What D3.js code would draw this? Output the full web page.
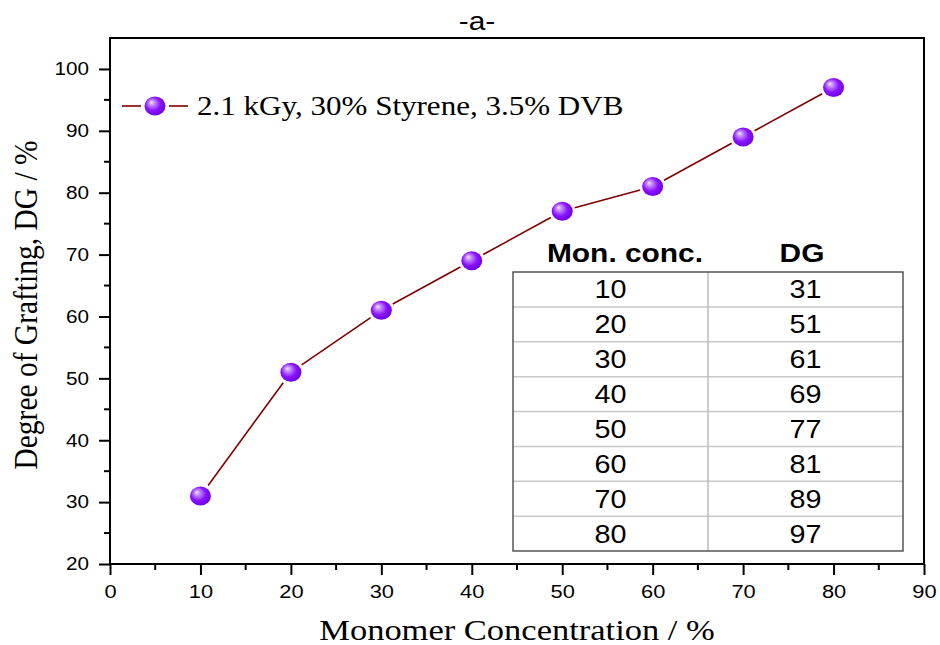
<!DOCTYPE html>
<html>
<head>
<meta charset="utf-8">
<script src="https://cdn.jsdelivr.net/npm/d3@7"></script>
<style>
  html, body { margin: 0; padding: 0; background: #fff; }
  svg { display: block; }
</style>
</head>
<body>
<svg id="chart" width="940" height="645"></svg>
<script>
// Degree of grafting versus monomer concentration
const monomerConc = [10, 20, 30, 40, 50, 60, 70, 80];
const degreeGrafting = [31, 51, 61, 69, 77, 81, 89, 97];
const xTicks = [0, 10, 20, 30, 40, 50, 60, 70, 80, 90];
const yTicks = [20, 30, 40, 50, 60, 70, 80, 90, 100];
const seriesName = "2.1 kGy, 30% Styrene, 3.5% DVB";
const tableHeaders = ["Mon. conc.", "DG"];

const svg = d3.select("#chart");
const sans = "'Liberation Sans', Arial, sans-serif";
const serif = "'Liberation Serif', 'Times New Roman', serif";
const stretch = 1.15; // text is drawn slightly wide

const margin = { left: 110, right: 16, top: 38, bottom: 81 };
const W = 940, H = 645;
const x = d3.scaleLinear().domain([0, 90]).range([margin.left, W - margin.right]);
const y = d3.scaleLinear().domain([20, 105]).range([H - margin.bottom, margin.top]);

// place a horizontally widened text at (tx, ty)
function wideText(g, tx, ty, str, opts) {
  const t = g.append("text")
    .attr("transform", `translate(${tx},${ty}) scale(${stretch},1)` + (opts.rotate ? ` rotate(${opts.rotate})` : ""))
    .attr("text-anchor", opts.anchor || "start")
    .attr("font-family", opts.family || sans)
    .attr("font-size", opts.size)
    .attr("fill", "#000")
    .text(str);
  if (opts.weight) t.attr("font-weight", opts.weight);
  return t;
}

// shaded sphere marker
const defs = svg.append("defs");
const grad = defs.append("radialGradient").attr("id", "ball")
  .attr("cx", "45%").attr("cy", "45%").attr("r", "60%")
  .attr("fx", "32%").attr("fy", "30%");
grad.append("stop").attr("offset", "0%").attr("stop-color", "#f4e8ff");
grad.append("stop").attr("offset", "22%").attr("stop-color", "#c58cff");
grad.append("stop").attr("offset", "60%").attr("stop-color", "#8a12ff");
grad.append("stop").attr("offset", "100%").attr("stop-color", "#6a00e0");

// title
wideText(svg, 477, 30, "-a-", { anchor: "middle", size: 26 });

// axes
const xAxis = d3.axisBottom(x).tickValues(xTicks).tickSize(11).tickPadding(10);
const yAxis = d3.axisLeft(y).tickValues(yTicks).tickSize(11).tickPadding(10);

const gx = svg.append("g").attr("transform", `translate(0,${y(20)})`).call(xAxis);
const gy = svg.append("g").attr("transform", `translate(${x(0)},0)`).call(yAxis);
[gx, gy].forEach(g => {
  g.select(".domain").remove();
  g.selectAll("line").attr("stroke", "#000").attr("stroke-width", 2);
});
gx.selectAll("text").attr("font-family", sans).attr("font-size", 19).attr("fill", "#000")
  .attr("transform", `scale(${stretch},1)`);
gy.selectAll("text").attr("font-family", sans).attr("font-size", 18).attr("fill", "#000")
  .attr("transform", function () {
    const xx = +d3.select(this).attr("x");
    return `translate(${xx},0) scale(${stretch},1) translate(${-xx},0)`;
  });

// minor ticks
const xMinor = d3.range(5, 90, 10);
const yMinor = d3.range(25, 105, 10);
svg.append("g").selectAll("line").data(xMinor).join("line")
  .attr("x1", d => x(d)).attr("x2", d => x(d))
  .attr("y1", y(20)).attr("y2", y(20) + 6)
  .attr("stroke", "#000").attr("stroke-width", 2);
svg.append("g").selectAll("line").data(yMinor).join("line")
  .attr("y1", d => y(d)).attr("y2", d => y(d))
  .attr("x1", x(0)).attr("x2", x(0) - 6)
  .attr("stroke", "#000").attr("stroke-width", 2);

// plot frame
svg.append("rect").attr("x", x(0)).attr("y", y(105))
  .attr("width", x(90) - x(0)).attr("height", y(20) - y(105))
  .attr("fill", "none").attr("stroke", "#000").attr("stroke-width", 2);

// axis titles
wideText(svg, 517, 640, "Monomer Concentration / %", { anchor: "middle", size: 30, family: serif });
wideText(svg, 37, 305, "Degree of Grafting, DG / %", { anchor: "middle", size: 29.5, family: serif, rotate: -90 });

// data table
const tbl = { left: 513, right: 903, top: 272, bottom: 551, mid: 708 };
const rowH = (tbl.bottom - tbl.top) / monomerConc.length;
const colC = [(tbl.left + tbl.mid) / 2, (tbl.mid + tbl.right) / 2];
const tg = svg.append("g");
tableHeaders.forEach((h, i) => {
  wideText(tg, [625, 802][i], 262, h, { anchor: "middle", size: 26, weight: "bold" });
});
tg.selectAll("line.row").data(d3.range(1, monomerConc.length)).join("line")
  .attr("x1", tbl.left).attr("x2", tbl.right)
  .attr("y1", d => tbl.top + d * rowH).attr("y2", d => tbl.top + d * rowH)
  .attr("stroke", "#c8c8c8").attr("stroke-width", 1.5);
tg.append("line").attr("x1", tbl.mid).attr("x2", tbl.mid)
  .attr("y1", tbl.top).attr("y2", tbl.bottom)
  .attr("stroke", "#bdbdbd").attr("stroke-width", 1.5);
tg.append("rect").attr("x", tbl.left).attr("y", tbl.top)
  .attr("width", tbl.right - tbl.left).attr("height", tbl.bottom - tbl.top)
  .attr("fill", "none").attr("stroke", "#555").attr("stroke-width", 1.5);
monomerConc.forEach((m, i) => {
  const yy = tbl.top + (i + 0.5) * rowH + 9;
  wideText(tg, colC[0], yy, m, { anchor: "middle", size: 25 });
  wideText(tg, colC[1], yy, degreeGrafting[i], { anchor: "middle", size: 25 });
});

// series line with gaps around markers
const pts = monomerConc.map((m, i) => [x(m), y(degreeGrafting[i])]);
const gap = 13;
const lg = svg.append("g");
for (let i = 0; i < pts.length - 1; i++) {
  const [x1, y1] = pts[i], [x2, y2] = pts[i + 1];
  const L = Math.hypot(x2 - x1, y2 - y1);
  const ux = (x2 - x1) / L, uy = (y2 - y1) / L;
  lg.append("line")
    .attr("x1", x1 + ux * gap).attr("y1", y1 + uy * gap)
    .attr("x2", x2 - ux * gap).attr("y2", y2 - uy * gap)
    .attr("stroke", "#800000").attr("stroke-width", 1.6);
}
svg.append("g").selectAll("ellipse").data(pts).join("ellipse")
  .attr("cx", d => d[0]).attr("cy", d => d[1]).attr("rx", 10.5).attr("ry", 9.5)
  .attr("fill", "url(#ball)");

// legend
const lgY = 106;
svg.append("line").attr("x1", 122).attr("x2", 141).attr("y1", lgY).attr("y2", lgY)
  .attr("stroke", "#800000").attr("stroke-width", 1.6);
svg.append("line").attr("x1", 169).attr("x2", 188).attr("y1", lgY).attr("y2", lgY)
  .attr("stroke", "#800000").attr("stroke-width", 1.6);
svg.append("ellipse").attr("cx", 155).attr("cy", lgY).attr("rx", 10.5).attr("ry", 9.5)
  .attr("fill", "url(#ball)");
wideText(svg, 197, 115, seriesName, { size: 27, family: serif });
</script>
</body>
</html>
